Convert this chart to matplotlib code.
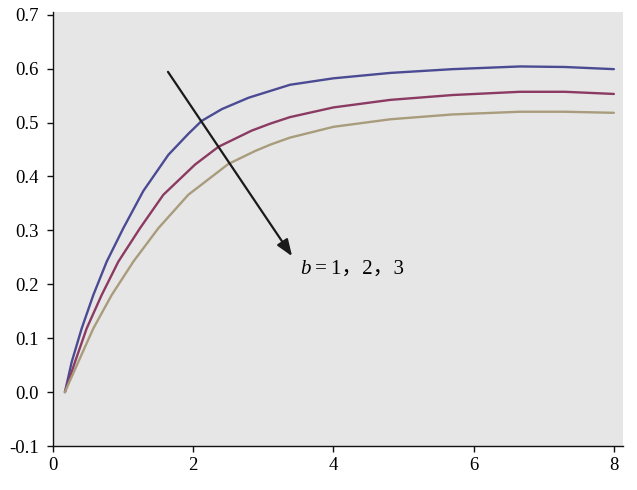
import matplotlib
matplotlib.use("Agg")
import matplotlib.pyplot as plt

# curves, b = 1, 2, 3
x_b1 = [0.17, 0.267, 0.409, 0.575, 0.766, 1.003, 1.288, 1.645, 1.93, 2.12, 2.41, 2.79,
        3.38, 4.0, 4.81, 5.7, 6.66, 7.3, 8.0]
y_b1 = [0.0, 0.056, 0.118, 0.180, 0.242, 0.304, 0.373, 0.440, 0.479, 0.503, 0.525, 0.546,
        0.570, 0.582, 0.592, 0.599, 0.604, 0.603, 0.599]

x_b2 = [0.17, 0.314, 0.48, 0.694, 0.932, 1.241, 1.574, 2.026, 2.36, 2.834, 3.10, 3.38,
        4.0, 4.81, 5.7, 6.66, 7.3, 8.0]
y_b2 = [0.0, 0.056, 0.118, 0.180, 0.242, 0.304, 0.366, 0.422, 0.455, 0.485, 0.498, 0.510,
        0.528, 0.542, 0.551, 0.557, 0.557, 0.553]

x_b3 = [0.17, 0.361, 0.575, 0.837, 1.146, 1.503, 1.93, 2.50, 2.88, 3.10, 3.38, 4.0,
        4.81, 5.7, 6.66, 7.3, 8.0]
y_b3 = [0.0, 0.056, 0.118, 0.180, 0.242, 0.304, 0.366, 0.423, 0.447, 0.459, 0.472, 0.492,
        0.506, 0.515, 0.520, 0.520, 0.518]

colors = ['#4b4b94', '#8b3a62', '#a89c7c']
xticks = [0, 2, 4, 6, 8]
yticks = [-0.1, 0.0, 0.1, 0.2, 0.3, 0.4, 0.5, 0.6, 0.7]

serif = ['Liberation Serif', 'Noto Sans CJK SC', 'DejaVu Sans']
plt.rcParams['font.family'] = serif

fig = plt.figure(figsize=(6.37, 4.90), dpi=100)
ax = fig.add_axes([53 / 637, 44 / 490, 570 / 637, 434 / 490])
ax.set_facecolor('#e6e6e6')

for xs, ys, c in zip([x_b1, x_b2, x_b3], [y_b1, y_b2, y_b3], colors):
    ax.plot(xs, ys, color=c, lw=1.7, solid_joinstyle='round', solid_capstyle='round')

ax.set_xlim(0, 8.13)
ax.set_ylim(-0.1, 0.705)
ax.set_xticks(xticks)
ax.set_xticklabels([str(t) for t in xticks])
ax.set_yticks(yticks)
ax.set_yticklabels(['%.1f' % t for t in yticks])

for side in ['top', 'right']:
    ax.spines[side].set_visible(False)
for side in ['left', 'bottom']:
    ax.spines[side].set_linewidth(1.0)
    ax.spines[side].set_color('#111111')
ax.tick_params(direction='out', length=4, width=1.0, labelsize=13.5, color='#111111')
ax.tick_params(axis='y', pad=6)
ax.tick_params(axis='x', pad=4)

# arrow + label
ax.annotate('', xy=(3.41, 0.252), xytext=(1.64, 0.594),
            arrowprops=dict(arrowstyle='-|>,head_length=1.0,head_width=0.38',
                            color='#1a1a1a', lw=1.6, shrinkA=0, shrinkB=0))
t1 = ax.text(3.53, 0.227, 'b', fontsize=15, style='italic', va='center', ha='left',
             family=serif)
ax.annotate('\u2009=\u20091\uff0c2\uff0c3', xy=(1, 0.5), xycoords=t1,
            fontsize=15, va='center', ha='left', family=serif)

fig.savefig('out.png', dpi=100)
